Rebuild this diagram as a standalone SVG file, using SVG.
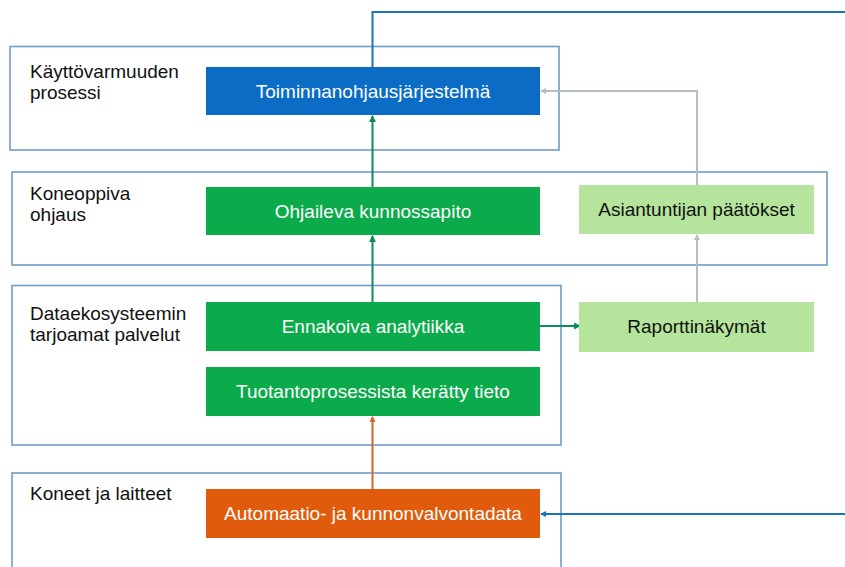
<svg xmlns="http://www.w3.org/2000/svg" width="845" height="567" viewBox="0 0 845 567">
<style>
.layer{fill:#ffffff;stroke:#6f9ccb;stroke-width:1.6}
.lt{font-family:"Liberation Sans",Arial,sans-serif;font-size:19px;fill:#111111}
.nt{font-family:"Liberation Sans",Arial,sans-serif;font-size:19px;text-anchor:middle}
.w{fill:#ffffff}
.k{fill:#111111}
.c{fill:none;stroke-width:2}
</style>
<defs>
<marker id="aBlue" markerWidth="6" markerHeight="6" refX="5" refY="3" orient="auto" markerUnits="userSpaceOnUse"><path d="M0,0 L6,3 L0,6 z" fill="#1b74b8"/></marker>
<marker id="aGreen" markerWidth="7" markerHeight="7" refX="6" refY="3.5" orient="auto" markerUnits="userSpaceOnUse"><path d="M0,0 L7,3.5 L0,7 z" fill="#0f8a5c"/></marker>
<marker id="aGray" markerWidth="6" markerHeight="6" refX="5" refY="3" orient="auto" markerUnits="userSpaceOnUse"><path d="M0,0 L6,3 L0,6 z" fill="#b5bfbb"/></marker>
<marker id="aOrange" markerWidth="6" markerHeight="6" refX="5" refY="3" orient="auto" markerUnits="userSpaceOnUse"><path d="M0,0 L6,3 L0,6 z" fill="#d0662a"/></marker>
</defs>
<rect width="845" height="567" fill="#ffffff"/>

<g id="layer-kayttovarmuus">
<rect class="layer" x="10" y="46.5" width="549" height="103.5"/>
<text class="lt" x="30" y="78">Käyttövarmuuden</text>
<text class="lt" x="30" y="99">prosessi</text>
</g>
<g id="layer-koneoppiva">
<rect class="layer" x="12" y="172" width="815" height="93"/>
<text class="lt" x="30" y="200">Koneoppiva</text>
<text class="lt" x="30" y="221">ohjaus</text>
</g>
<g id="layer-dataekosysteemi">
<rect class="layer" x="12" y="285.5" width="549" height="159.5"/>
<text class="lt" x="30" y="320">Dataekosysteemin</text>
<text class="lt" x="30" y="341">tarjoamat palvelut</text>
</g>
<g id="layer-koneet">
<rect class="layer" x="12" y="473" width="549" height="110"/>
<text class="lt" x="30" y="500">Koneet ja laitteet</text>
</g>

<g id="connectors">
<path class="c" d="M845,12 L372.5,12 L372.5,67" stroke="#1b74b8"/>
<path class="c" d="M845,514 L541,514" stroke="#1b74b8" marker-end="url(#aBlue)"/>
<path class="c" d="M372.5,187 L372.5,116" stroke="#0f8a5c" marker-end="url(#aGreen)"/>
<path class="c" d="M372.5,302 L372.5,236" stroke="#0f8a5c" marker-end="url(#aGreen)"/>
<path class="c" d="M540,326 L580,326" stroke="#0f8a5c" marker-end="url(#aGreen)"/>
<path class="c" d="M372.5,489 L372.5,417" stroke="#d0662a" marker-end="url(#aOrange)"/>
<path class="c" d="M697,302 L697,235" stroke="#b5bfbb" stroke-width="1.5" marker-end="url(#aGray)"/>
<path class="c" d="M697,185 L697,91 L541,91" stroke="#b5bfbb" stroke-width="1.5" marker-end="url(#aGray)"/>
</g>

<g id="node-toiminnanohjaus">
<rect x="206" y="67" width="334" height="48" fill="#0b6cc6"/>
<text class="nt w" x="373" y="97.5">Toiminnanohjausjärjestelmä</text>
</g>
<g id="node-ohjaileva">
<rect x="206" y="187" width="334" height="48" fill="#0bab4b"/>
<text class="nt w" x="373" y="217.5">Ohjaileva kunnossapito</text>
</g>
<g id="node-asiantuntijan">
<rect x="579" y="185" width="235" height="49" fill="#b5e59c"/>
<text class="nt k" x="696.5" y="215.5">Asiantuntijan päätökset</text>
</g>
<g id="node-ennakoiva">
<rect x="206" y="302" width="334" height="49" fill="#0bab4b"/>
<text class="nt w" x="373" y="332.5">Ennakoiva analytiikka</text>
</g>
<g id="node-raportti">
<rect x="579" y="302" width="235" height="50" fill="#b5e59c"/>
<text class="nt k" x="696.5" y="332.5">Raporttinäkymät</text>
</g>
<g id="node-tuotanto">
<rect x="206" y="367" width="334" height="49" fill="#0bab4b"/>
<text class="nt w" x="373" y="397.5">Tuotantoprosessista kerätty tieto</text>
</g>
<g id="node-automaatio">
<rect x="206" y="489" width="334" height="49" fill="#e05c0c"/>
<text class="nt w" x="373" y="519.5">Automaatio- ja kunnonvalvontadata</text>
</g>
</svg>
